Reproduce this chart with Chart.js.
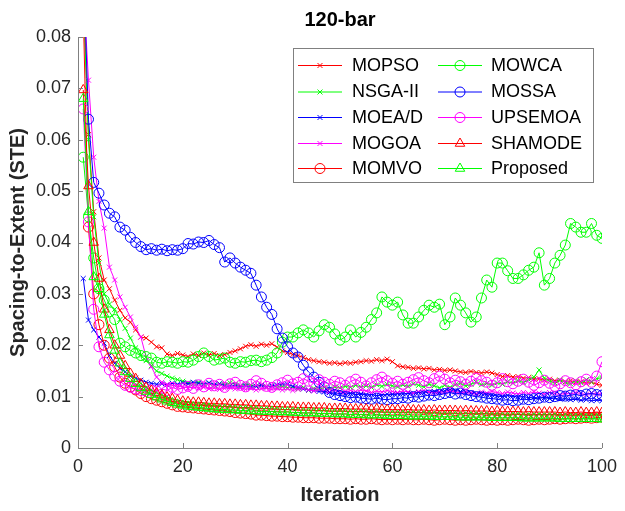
<!DOCTYPE html>
<html><head><meta charset="utf-8">
<script src="https://cdn.jsdelivr.net/npm/chart.js@4.4.1/dist/chart.umd.min.js"></script>
<style>html,body{margin:0;padding:0;background:#fff;}</style>
</head><body>
<canvas id="c" width="625" height="511"></canvas>
<script>
const chartTitle = '120-bar';
const xTitle = 'Iteration';
const yTitle = 'Spacing-to-Extent (STE)';
const xTicks = [0, 20, 40, 60, 80, 100];
const yTicks = [0, 0.01, 0.02, 0.03, 0.04, 0.05, 0.06, 0.07, 0.08];
const seriesNames = ['MOPSO','NSGA-II','MOEA/D','MOGOA','MOMVO','MOWCA','MOSSA','UPSEMOA','SHAMODE','Proposed'];

const MOPSO = [0.090,0.061,0.046,0.037,0.0327,0.031,0.0288,0.0268,0.0253,0.0245,
0.0230,0.0216,0.0214,0.0206,0.0197,0.0195,0.0183,0.0180,0.0184,0.0181,
0.0178,0.0183,0.0180,0.0185,0.0181,0.0184,0.0180,0.0182,0.0186,0.0189,
0.0193,0.0198,0.0201,0.0198,0.0202,0.0200,0.0203,0.0196,0.0189,0.0186,
0.0182,0.0180,0.0176,0.0172,0.0170,0.0168,0.0167,0.0165,0.0166,0.0164,
0.0166,0.0165,0.0167,0.0168,0.0170,0.0169,0.0172,0.0170,0.0173,0.0168,
0.0160,0.0158,0.0157,0.0155,0.0156,0.0154,0.0155,0.0152,0.0153,0.0151,
0.0152,0.0150,0.0148,0.0147,0.0149,0.0147,0.0146,0.0148,0.0146,0.0143,
0.0139,0.0141,0.0138,0.0139,0.0136,0.0137,0.0134,0.0135,0.0132,0.0134,
0.0131,0.0132,0.0129,0.0131,0.0128,0.0129,0.0126,0.0128,0.0124,0.0122];

const NSGAII = [0.088,0.060,0.045,0.036,0.030,0.028,0.027,0.025,0.0233,0.0214,
0.0195,0.0180,0.0170,0.0160,0.0150,0.0145,0.0140,0.0136,0.0133,0.0130,
0.0127,0.0125,0.0128,0.0124,0.0126,0.0122,0.0125,0.0123,0.0127,0.0124,
0.0121,0.0125,0.0122,0.0120,0.0123,0.0119,0.0121,0.0118,0.0120,0.0117,
0.0119,0.0115,0.0118,0.0112,0.0116,0.0114,0.0118,0.0115,0.0119,0.0117,
0.0120,0.0118,0.0122,0.0119,0.0121,0.0118,0.0123,0.0120,0.0124,0.0121,
0.0119,0.0123,0.0120,0.0125,0.0122,0.0119,0.0124,0.0121,0.0117,0.0122,
0.0118,0.0123,0.0126,0.0121,0.0124,0.0128,0.0123,0.0126,0.0122,0.0127,
0.0124,0.0129,0.0126,0.0131,0.0127,0.0133,0.0138,0.0152,0.0136,0.0130,
0.0127,0.0132,0.0128,0.0125,0.0131,0.0127,0.0133,0.0129,0.0135,0.0137];

const MOEAD = [0.033,0.0249,0.0230,0.0216,0.0204,0.0180,0.0165,0.0155,0.0148,0.0140,
0.0136,0.0132,0.0128,0.0126,0.0124,0.0125,0.0123,0.0126,0.0124,0.0127,
0.0125,0.0128,0.0126,0.0124,0.0127,0.0123,0.0125,0.0121,0.0120,0.0122,
0.0119,0.0121,0.0118,0.0120,0.0122,0.0119,0.0121,0.0123,0.0125,0.0124,
0.0120,0.0118,0.0115,0.0113,0.0112,0.0110,0.0109,0.0108,0.0107,0.0106,
0.0105,0.0106,0.0104,0.0105,0.0103,0.0104,0.0102,0.0103,0.0105,0.0104,
0.0106,0.0105,0.0107,0.0106,0.0108,0.0107,0.0109,0.0110,0.0108,0.0111,
0.0113,0.0112,0.0110,0.0108,0.0107,0.0105,0.0106,0.0104,0.0103,0.0101,
0.0100,0.0102,0.0101,0.0099,0.0100,0.0098,0.0099,0.0097,0.0098,0.0096,
0.0097,0.0095,0.0096,0.0094,0.0095,0.0093,0.0094,0.0092,0.0093,0.0092];

const MOGOA = [0.090,0.0716,0.0566,0.048,0.0428,0.0352,0.0327,0.0294,0.0274,0.0255,
0.0235,0.0216,0.0177,0.0158,0.0138,0.0128,0.0124,0.0122,0.0120,0.0119,
0.0117,0.0119,0.0116,0.0118,0.0115,0.0117,0.0114,0.0116,0.0118,0.0115,
0.0117,0.0114,0.0116,0.0113,0.0115,0.0117,0.0114,0.0116,0.0113,0.0115,
0.0112,0.0114,0.0116,0.0113,0.0111,0.0114,0.0112,0.0110,0.0113,0.0111,
0.0109,0.0112,0.0110,0.0113,0.0111,0.0108,0.0111,0.0109,0.0112,0.0110,
0.0108,0.0111,0.0109,0.0107,0.0110,0.0112,0.0109,0.0107,0.0110,0.0108,
0.0111,0.0109,0.0107,0.0110,0.0108,0.0106,0.0109,0.0107,0.0110,0.0108,
0.0106,0.0109,0.0107,0.0105,0.0108,0.0106,0.0109,0.0107,0.0105,0.0108,
0.0106,0.0104,0.0107,0.0105,0.0108,0.0106,0.0104,0.0107,0.0105,0.0106];

const MOMVO = [0.085,0.043,0.030,0.024,0.020,0.0175,0.0158,0.0138,0.0126,0.0119,
0.0113,0.0106,0.0100,0.0096,0.0093,0.0090,0.0087,0.0084,0.0081,0.0080,
0.0079,0.0078,0.0077,0.0076,0.0075,0.0074,0.0073,0.0072,0.0071,0.0069,
0.0068,0.0067,0.0066,0.0064,0.0064,0.0063,0.0062,0.0062,0.0061,0.0061,
0.0060,0.0060,0.0059,0.0059,0.0059,0.0058,0.0058,0.0058,0.0057,0.0057,
0.0057,0.0056,0.0057,0.0056,0.0056,0.0057,0.0056,0.0055,0.0056,0.0055,
0.0056,0.0055,0.0056,0.0055,0.0055,0.0056,0.0055,0.0054,0.0055,0.0056,
0.0055,0.0054,0.0055,0.0054,0.0055,0.0056,0.0055,0.0054,0.0055,0.0054,
0.0055,0.0054,0.0055,0.0056,0.0055,0.0054,0.0055,0.0056,0.0055,0.0056,
0.0057,0.0056,0.0057,0.0058,0.0057,0.0058,0.0059,0.0058,0.0059,0.0060];

const MOWCA = [0.0566,0.045,0.037,0.031,0.0288,0.0265,0.0250,0.0204,0.0197,0.0190,
0.0185,0.0180,0.0178,0.0175,0.0167,0.0165,0.0168,0.0167,0.0165,0.0168,
0.0167,0.0171,0.0178,0.0185,0.0178,0.0171,0.0173,0.0175,0.0167,0.0165,
0.0168,0.0167,0.0170,0.0171,0.0168,0.0171,0.0176,0.0185,0.0206,0.0216,
0.0216,0.0224,0.0230,0.0224,0.0216,0.0228,0.0240,0.0235,0.0222,0.0210,
0.0216,0.0230,0.0216,0.0225,0.0235,0.0250,0.0263,0.0294,0.0284,0.0278,
0.0284,0.0259,0.0243,0.0243,0.0255,0.0268,0.0278,0.0274,0.0280,0.0240,
0.0255,0.0292,0.0278,0.0263,0.0245,0.0255,0.0292,0.0327,0.0313,0.0360,
0.0360,0.0345,0.0330,0.0330,0.0337,0.0346,0.0352,0.0380,0.0317,0.0330,
0.0360,0.0375,0.0395,0.0437,0.0430,0.0420,0.0420,0.0437,0.0414,0.0408];

const MOSSA = [0.095,0.064,0.0517,0.0496,0.0473,0.0457,0.0450,0.0430,0.0424,0.0410,
0.0400,0.0392,0.0386,0.0388,0.0385,0.0387,0.0384,0.0386,0.0385,0.0388,
0.0398,0.0397,0.0401,0.0400,0.0404,0.0396,0.0390,0.0362,0.0370,0.0360,
0.0352,0.0346,0.0340,0.0317,0.0294,0.0274,0.0260,0.0232,0.0214,0.0197,
0.0185,0.0177,0.0161,0.0148,0.0138,0.0128,0.0119,0.0108,0.0104,0.0102,
0.0100,0.0098,0.0099,0.0097,0.0096,0.0095,0.0097,0.0095,0.0094,0.0096,
0.0096,0.0098,0.0097,0.0100,0.0099,0.0101,0.0103,0.0102,0.0104,0.0106,
0.0108,0.0105,0.0107,0.0104,0.0102,0.0100,0.0099,0.0097,0.0096,0.0095,
0.0093,0.0094,0.0092,0.0093,0.0095,0.0094,0.0096,0.0097,0.0099,0.0098,
0.0100,0.0102,0.0101,0.0103,0.0104,0.0102,0.0105,0.0106,0.0104,0.0103];

const UPSEMOA = [0.066,0.044,0.027,0.0197,0.0167,0.0152,0.0140,0.0130,0.0122,0.0118,
0.0115,0.0112,0.0110,0.0113,0.0111,0.0115,0.0112,0.0118,0.0114,0.0117,
0.0120,0.0116,0.0123,0.0119,0.0126,0.0121,0.0124,0.0118,0.0125,0.0128,
0.0122,0.0119,0.0124,0.0131,0.0126,0.0120,0.0118,0.0123,0.0127,0.0132,
0.0125,0.0128,0.0135,0.0130,0.0126,0.0133,0.0128,0.0124,0.0130,0.0127,
0.0122,0.0129,0.0134,0.0128,0.0121,0.0127,0.0133,0.0138,0.0131,0.0126,
0.0130,0.0124,0.0128,0.0133,0.0137,0.0131,0.0127,0.0135,0.0140,0.0134,
0.0127,0.0132,0.0129,0.0124,0.0130,0.0136,0.0131,0.0128,0.0122,0.0127,
0.0135,0.0129,0.0125,0.0130,0.0134,0.0128,0.0122,0.0127,0.0132,0.0126,
0.0120,0.0125,0.0131,0.0127,0.0123,0.0129,0.0134,0.0128,0.0140,0.0168];

const SHAMODE = [0.0697,0.051,0.040,0.0330,0.0270,0.0230,0.0200,0.0180,0.0160,0.0145,
0.0135,0.0125,0.0118,0.0112,0.0107,0.0103,0.0099,0.0096,0.0093,0.0091,
0.0090,0.0089,0.0089,0.0088,0.0087,0.0087,0.0086,0.0086,0.0085,0.0085,
0.0084,0.0084,0.0083,0.0083,0.0082,0.0082,0.0081,0.0081,0.0080,0.0080,
0.0080,0.0079,0.0079,0.0079,0.0078,0.0078,0.0078,0.0077,0.0077,0.0077,
0.0077,0.0076,0.0076,0.0076,0.0076,0.0075,0.0076,0.0075,0.0075,0.0075,
0.0075,0.0074,0.0075,0.0074,0.0074,0.0074,0.0073,0.0074,0.0073,0.0073,
0.0073,0.0073,0.0072,0.0073,0.0072,0.0072,0.0072,0.0072,0.0071,0.0072,
0.0071,0.0071,0.0071,0.0071,0.0070,0.0071,0.0070,0.0070,0.0070,0.0070,
0.0070,0.0069,0.0070,0.0069,0.0069,0.0070,0.0069,0.0069,0.0070,0.0069];

const Proposed = [0.068,0.046,0.0333,0.031,0.026,0.022,0.019,0.0165,0.0148,0.0135,
0.0125,0.0117,0.0110,0.0104,0.0099,0.0095,0.0091,0.0088,0.0085,0.0083,
0.0081,0.0080,0.0079,0.0078,0.0077,0.0076,0.0075,0.0075,0.0074,0.0074,
0.0073,0.0073,0.0072,0.0072,0.0071,0.0071,0.0071,0.0070,0.0070,0.0070,
0.0069,0.0069,0.0068,0.0068,0.0068,0.0067,0.0067,0.0067,0.0066,0.0066,
0.0066,0.0065,0.0065,0.0065,0.0064,0.0064,0.0064,0.0064,0.0063,0.0063,
0.0063,0.0063,0.0062,0.0062,0.0062,0.0062,0.0062,0.0061,0.0061,0.0061,
0.0061,0.0061,0.0060,0.0060,0.0060,0.0060,0.0060,0.0060,0.0059,0.0059,
0.0059,0.0059,0.0059,0.0059,0.0058,0.0058,0.0058,0.0058,0.0058,0.0058,
0.0058,0.0057,0.0057,0.0057,0.0057,0.0057,0.0057,0.0057,0.0057,0.0056];

const seriesValues = [MOPSO, NSGAII, MOEAD, MOGOA, MOMVO, MOWCA, MOSSA, UPSEMOA, SHAMODE, Proposed];
const seriesColors = ['#ff0000','#00ff00','#0000ff','#ff00ff','#ff0000','#00ff00','#0000ff','#ff00ff','#ff0000','#00ff00'];
const seriesMarkers = ['crossRot','crossRot','crossRot','crossRot','circle','circle','circle','circle','triangle','triangle'];
const markerRadius = {crossRot: 3.5, circle: 5, triangle: 5.5};

const FONT = '"Liberation Sans", Arial, Helvetica, sans-serif';

const datasets = seriesNames.map((name, i) => ({
  label: name,
  data: seriesValues[i].map((v, k) => ({x: k + 1, y: v})),
  borderColor: seriesColors[i],
  backgroundColor: 'rgba(0,0,0,0)',
  borderWidth: 1,
  pointStyle: seriesMarkers[i],
  pointRadius: markerRadius[seriesMarkers[i]],
  pointBorderWidth: 1,
  pointBorderColor: seriesColors[i],
  pointBackgroundColor: 'rgba(0,0,0,0)',
  pointHoverRadius: markerRadius[seriesMarkers[i]],
  tension: 0,
  fill: false,
  order: seriesNames.length - i
}));

const overlay = {
  id: 'overlay',
  afterDraw(chart) {
    const ctx = chart.ctx;
    const ca = chart.chartArea;
    const xs = chart.scales.x, ys = chart.scales.y;
    ctx.save();
    ctx.strokeStyle = '#808080';
    ctx.lineWidth = 1;
    ctx.beginPath();
    ctx.moveTo(Math.round(ca.left) + 0.5, ca.top);
    ctx.lineTo(Math.round(ca.left) + 0.5, Math.round(ca.bottom) + 0.5);
    ctx.lineTo(ca.right, Math.round(ca.bottom) + 0.5);
    ctx.stroke();
    ctx.beginPath();
    xTicks.forEach(t => {
      const px = Math.round(xs.getPixelForValue(t)) + 0.5;
      ctx.moveTo(px, ca.bottom);
      ctx.lineTo(px, ca.bottom - 5);
    });
    yTicks.forEach(t => {
      const py = Math.round(ys.getPixelForValue(t)) + 0.5;
      ctx.moveTo(ca.left, py);
      ctx.lineTo(ca.left + 5, py);
    });
    ctx.stroke();

    ctx.fillStyle = '#000';
    ctx.textAlign = 'center';
    ctx.textBaseline = 'middle';
    ctx.font = 'bold 20px ' + FONT;
    ctx.fillText(chartTitle, (ca.left + ca.right) / 2, 20);
    ctx.fillStyle = '#262626';
    ctx.fillText(xTitle, (ca.left + ca.right) / 2, 495);
    ctx.save();
    ctx.translate(18, (ca.top + ca.bottom) / 2);
    ctx.rotate(-Math.PI / 2);
    ctx.fillText(yTitle, 0, 0);
    ctx.restore();

    const lx0 = 293, ly0 = 48, lx1 = 593, ly1 = 182;
    ctx.fillStyle = '#fff';
    ctx.fillRect(lx0, ly0, lx1 - lx0, ly1 - ly0);
    ctx.strokeStyle = '#808080';
    ctx.lineWidth = 1;
    ctx.strokeRect(lx0 + 0.5, ly0 + 0.5, lx1 - lx0, ly1 - ly0);
    const rowsY = [65, 91.5, 117, 143, 168];
    const cols = [{l0: 298, l1: 342, tx: 352}, {l0: 438, l1: 482, tx: 491}];
    ctx.font = '18px ' + FONT;
    ctx.textAlign = 'left';
    ctx.textBaseline = 'middle';
    chart.data.datasets.forEach((ds, i) => {
      const col = cols[Math.floor(i / 5)];
      const y = rowsY[i % 5];
      ctx.strokeStyle = ds.borderColor;
      ctx.lineWidth = 1;
      ctx.beginPath();
      ctx.moveTo(col.l0, y + 0.5);
      ctx.lineTo(col.l1, y + 0.5);
      ctx.stroke();
      ctx.fillStyle = 'rgba(0,0,0,0)';
      ctx.strokeStyle = ds.borderColor;
      Chart.helpers.drawPoint(ctx, {
        pointStyle: ds.pointStyle, radius: ds.pointRadius, borderWidth: 1, rotation: 0
      }, (col.l0 + col.l1) / 2, y + 0.5);
      ctx.fillStyle = '#000';
      ctx.fillText(ds.label, col.tx, y + 1);
    });
    ctx.restore();
  }
};

new Chart(document.getElementById('c'), {
  type: 'line',
  data: {datasets},
  options: {
    responsive: false,
    animation: false,
    layout: {padding: {top: 37, right: 19, left: 0, bottom: 0}},
    plugins: {legend: {display: false}, title: {display: false}, tooltip: {enabled: false}},
    scales: {
      x: {
        type: 'linear', min: 0, max: 100,
        afterBuildTicks: s => { s.ticks = xTicks.map(v => ({value: v})); },
        afterFit: s => { s.height = 63; },
        grid: {display: false, drawTicks: false, tickLength: 0},
        border: {display: false},
        ticks: {font: {size: 18, family: FONT}, color: '#262626', padding: 8, maxRotation: 0}
      },
      y: {
        type: 'linear', min: 0, max: 0.08,
        afterBuildTicks: s => { s.ticks = yTicks.map(v => ({value: v})); },
        afterFit: s => { s.width = 78; },
        grid: {display: false, drawTicks: false, tickLength: 0},
        border: {display: false},
        ticks: {font: {size: 18, family: FONT}, color: '#262626', padding: 7,
          callback: v => v === 0 ? '0' : v.toFixed(2)}
      }
    }
  },
  plugins: [overlay]
});
</script>
</body></html>
